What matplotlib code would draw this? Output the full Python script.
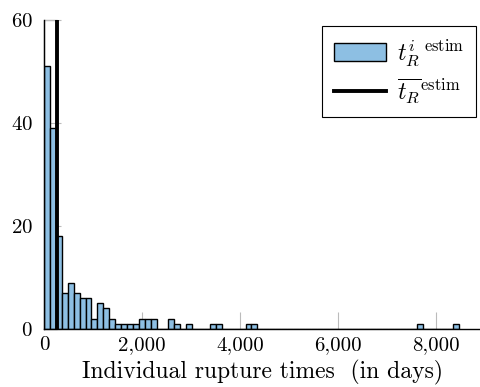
import numpy as np
import matplotlib.pyplot as plt

plt.rcParams['font.family'] = 'cmr10'
plt.rcParams['mathtext.fontset'] = 'cm'
plt.rcParams['axes.formatter.use_mathtext'] = True

# histogram of individual rupture times (70 bins of ~121 days)
bin_width = 121
counts = [51, 39, 18, 7, 9, 7, 6, 6, 2, 5,
          4, 2, 1, 1, 1, 1, 2, 2, 2, 0,
          0, 2, 1, 0, 1, 0, 0, 0, 1, 1,
          0, 0, 0, 0, 1, 1, 0, 0, 0, 0,
          0, 0, 0, 0, 0, 0, 0, 0, 0, 0,
          0, 0, 0, 0, 0, 0, 0, 0, 0, 0,
          0, 0, 0, 1, 0, 0, 0, 0, 0, 1]
mean_time = 265
x_ticks = [0, 2000, 4000, 6000, 8000]
x_tick_labels = ['0', '2,000', '4,000', '6,000', '8,000']
y_ticks = [0, 20, 40, 60]

edges = np.arange(len(counts)) * bin_width

fig = plt.figure(figsize=(4.81, 3.87), dpi=100)
ax = fig.add_axes([0.0915, 0.1499, 0.9085, 0.798])

# white bar up to the mean
ax.bar([0], [60], width=mean_time, align='edge', color='white',
       edgecolor='black', linewidth=0.8, zorder=1, clip_on=False)
bars = ax.bar(edges, counts, width=bin_width, align='edge', color='#8dbfe3',
              edgecolor='black', linewidth=1.0, zorder=2)
line = ax.axvline(mean_time, color='black', linewidth=2.8, zorder=3)

ax.set_xlim(0, 8920)
ax.set_ylim(0, 60)
ax.set_xticks(x_ticks)
ax.set_xticklabels(x_tick_labels)
ax.set_yticks(y_ticks)
ax.tick_params(direction='in', length=12, width=0.8, color='#bbbbbb',
               labelsize=15)
ax.tick_params(axis='x', pad=5)
ax.tick_params(axis='y', pad=8)
for t in ax.xaxis.get_major_ticks() + ax.yaxis.get_major_ticks():
    t.tick1line.set_zorder(5)
ax.spines['top'].set_visible(False)
ax.spines['right'].set_visible(False)
ax.spines['left'].set_linewidth(1.0)
ax.spines['bottom'].set_linewidth(1.0)
ax.spines['left'].set_zorder(6)
ax.spines['bottom'].set_zorder(6)

ax.set_xlabel('Individual rupture times  (in days)', fontsize=17, labelpad=4)

leg = ax.legend([bars, line],
                [r'$t_R^{i}\,^{\mathrm{estim}}$', r'$\overline{t_R}^{\mathrm{estim}}$'],
                loc='upper right', bbox_to_anchor=(0.9886, 0.9806), borderaxespad=0,
                fontsize=17, fancybox=False, edgecolor='black', framealpha=1,
                handlelength=2.2, handleheight=0.75, handletextpad=0.45,
                borderpad=0.5, labelspacing=0.35)
leg.get_frame().set_linewidth(0.8)

fig.savefig('out.png', dpi=100)
